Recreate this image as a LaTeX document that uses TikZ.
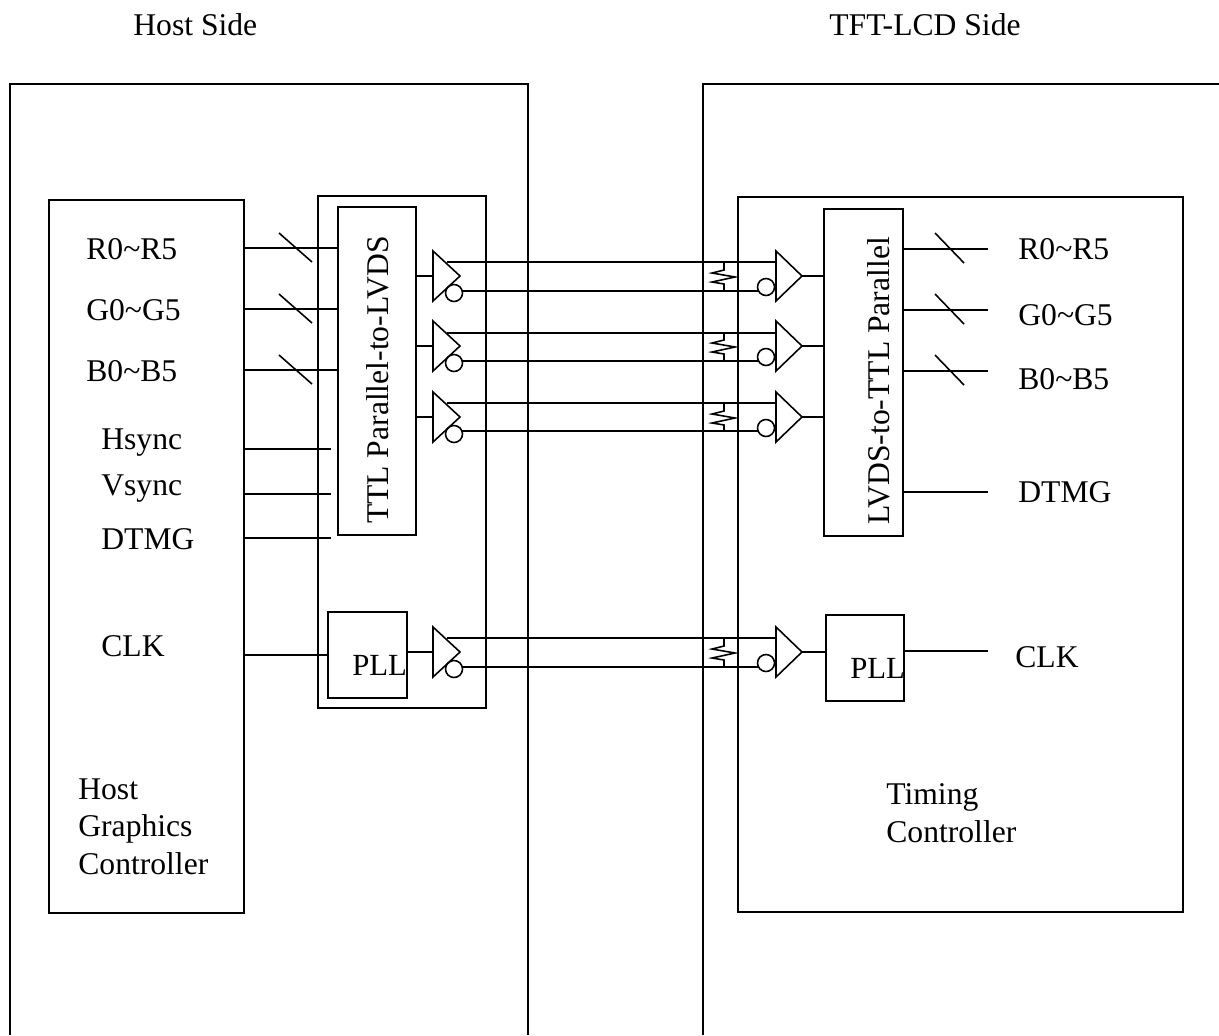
\documentclass[tikz,border=0pt]{standalone}
\usepackage{fontspec}
\setmainfont{Liberation Serif}
\usetikzlibrary{shapes.geometric}
\tikzstyle{block} = [rectangle, draw=black, line width=.9pt, inner sep=0pt, outer sep=0pt, anchor=north west]
\tikzstyle{wire} = [line width=.9pt]
\tikzstyle{bubble} = [circle, draw=black, line width=.9pt, minimum size=.34cm, inner sep=0pt]
\tikzstyle{label} = [inner sep=0pt, anchor=west, font=\fontsize{18}{20}\selectfont]
\tikzstyle{multilabel} = [label, align=left, font=\fontsize{18}{21.5}\selectfont]
\tikzstyle{vertical} = [label, rotate=90, anchor=center]
\tikzstyle{plllabel} = [label, font=\fontsize{17.5}{19}\selectfont]
\newcommand{\buffer}[4]{% name, x of base, y of tip, length
\coordinate (#1up) at (#2,#3-25);
\coordinate (#1low) at (#2,#3+25);
\coordinate (#1tip) at (#2+#4,#3);
\draw[wire] (#1up) -- (#1low) -- (#1tip) -- cycle;}
\begin{document}
\begin{tikzpicture}[x=.02cm,y=-.02cm]
\useasboundingbox (0,0) rectangle (1219,1035);
\fill[white] (0,0) rectangle (1219,1035);
% outer frames
\draw[wire] (10,1035) -- (10,84) -- (528,84) -- (528,1035);
\draw[wire] (703,1035) -- (703,84) -- (1219,84);
\node (hostside) [label] at (133,25) {Host Side};
\node (lcdside) [label] at (829,25) {TFT-LCD Side};
% boxes
\node (host) [block, minimum width=3.9cm, minimum height=14.26cm] at (49,200) {};
\node (txchip) [block, minimum width=3.36cm, minimum height=10.24cm] at (318,196) {};
\node (txconv) [block, minimum width=1.56cm, minimum height=6.56cm] at (338,207) {};
\node (txpll) [block, minimum width=1.58cm, minimum height=1.72cm] at (328,612) {};
\node (rxchip) [block, minimum width=8.9cm, minimum height=14.3cm] at (738,197) {};
\node (rxconv) [block, minimum width=1.58cm, minimum height=6.54cm] at (824,209) {};
\node (rxpll) [block, minimum width=1.56cm, minimum height=1.72cm] at (826,615) {};
\node (txtext) [vertical] at (378,380) {TTL Parallel-to-LVDS};
\node (rxtext) [vertical] at (879,381) {LVDS-to-TTL Parallel};
\node (txplltext) [plllabel] at (352,665) {PLL};
\node (rxplltext) [plllabel] at (850,668) {PLL};
% host labels
\node (r) [label] at (86,249) {R0\textasciitilde R5};
\node (g) [label] at (86,310) {G0\textasciitilde G5};
\node (b) [label] at (86,371) {B0\textasciitilde B5};
\node (hs) [label] at (101,443) {Hsync};
\node (vs) [label] at (101,489) {Vsync};
\node (de) [label] at (101,539) {DTMG};
\node (clk) [label] at (101,646) {CLK};
\node (hostname) [multilabel, anchor=north west] at (78,778) {Host\\Graphics\\Controller};
\node (tconname) [multilabel, anchor=north west] at (886,783) {Timing\\Controller};
% receiver labels
\node (rr) [label] at (1018,249) {R0\textasciitilde R5};
\node (rg) [label] at (1018,315) {G0\textasciitilde G5};
\node (rb) [label] at (1018,379) {B0\textasciitilde B5};
\node (rde) [label] at (1018,492) {DTMG};
\node (rclk) [label] at (1015,657) {CLK};
% input and output wires
\foreach \y in {248,309,370} {
\draw[wire] (243,\y) -- (338,\y);
\draw[wire] (279,\y-15) -- (312,\y+14);
\draw[wire] (903,\y+1) -- (988,\y+1);
\draw[wire] (935,\y-15) -- (964,\y+15);
}
\foreach \y in {449,494,538} \draw[wire] (243,\y) -- (331,\y);
\draw[wire] (host.east |- txpll.west) -- (txpll.west);
\draw[wire] (903,492) -- (988,492);
\draw[wire] (904,651) -- (988,651);
% differential pairs
\foreach \y/\u/\l/\i in {276/262/291/1,346/333/361/2,417/403/431/3,652/638/667/4} {
\buffer{tx\i}{433}{\y}{27}
\buffer{rx\i}{776}{\y}{26}
\node (txb\i) [bubble] at (454,\y+17) {};
\node (rxb\i) [bubble] at (766,\y+11) {};
\coordinate (txo\i) at (462,\l);
\coordinate (rxi\i) at (758,\l);
\draw[wire] (447,\u) -- (776,\u);
\draw[wire] (txo\i) -- (rxi\i);
\draw[wire] (724,\u) -- (724,\y-6) -- (712,\y-3) -- (735,\y+1) -- (712,\y+6) -- (724,\y+8) -- (724,\l);
}
\foreach \y/\i in {276/1,346/2,417/3} {
\draw[wire] (416,\y) -- (433,\y);
\draw[wire] (rx\i tip) -- (824,\y);
}
\draw[wire] (407,652) -- (433,652);
\draw[wire] (rx4tip) -- (rxpll.west |- rx4tip);
\end{tikzpicture}
\end{document}
